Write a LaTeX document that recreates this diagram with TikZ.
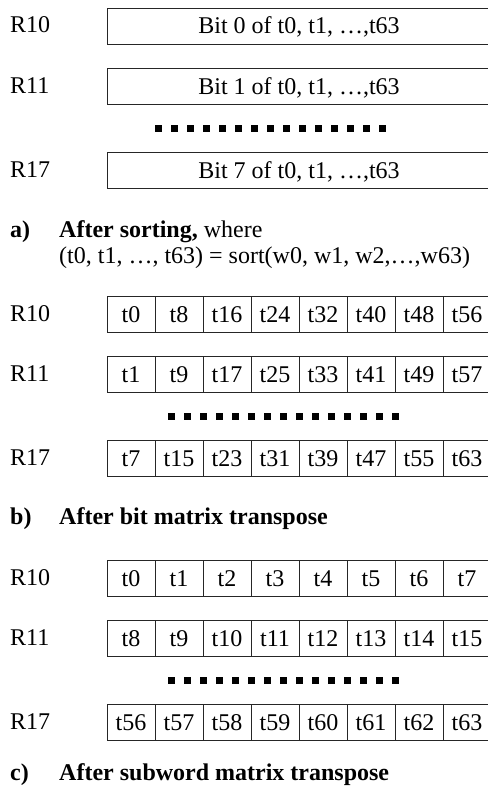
\documentclass[tikz,border=0pt]{standalone}
\usepackage{fontspec}
\setmainfont{Liberation Serif}
\begin{document}
\begin{tikzpicture}[x=1bp,y=-1bp,
  every node/.style={font=\fontsize{24bp}{27bp}\selectfont},
  wide/.style={draw=black!85, line width=0.9bp, minimum width=384bp, minimum height=36bp, inner sep=0pt, text height=16bp, text depth=0pt},
  cell/.style={draw=black!85, line width=0.9bp, minimum width=48bp, minimum height=36bp, inner sep=0pt, text height=16bp, text depth=0pt},
  reglabel/.style={anchor=base west, inner sep=0pt},
  dotrow/.style={line width=7bp, dash pattern=on 7bp off 9bp}]
\useasboundingbox (0,0) rectangle (488,791);
\clip (0,0) rectangle (488,791);
% top section
\node[reglabel] (l10) at (10,33) {R10};
\node[wide] (top0) at (299,26) {Bit 0 of t0, t1, …,t63};
\node[reglabel] (l11) at (10,93) {R11};
\node[wide] (top1) at (299,86) {Bit 1 of t0, t1, …,t63};
\draw[dotrow] (155,128) -- (395,128);
\node[reglabel] (l17) at (10,177) {R17};
\node[wide] (top7) at (299,170) {Bit 7 of t0, t1, …,t63};
% heading a
\node[reglabel] (ha) at (10,237) {\bfseries a)};
\node[reglabel] (hat) at (59,237) {\bfseries After sorting,\mdseries{} where};
\node[reglabel] (hab) at (59,263) {(t0, t1, …, t63) = sort(w0, w1, w2,…,w63)};
% section after sorting
\node[reglabel] (al10) at (10,321) {R10};
\node[reglabel] (al11) at (10,381) {R11};
\node[reglabel] (al17) at (10,465) {R17};
\foreach \c in {0,...,7}{
  \pgfmathtruncatemacro{\va}{8*\c}
  \pgfmathtruncatemacro{\vb}{8*\c+1}
  \pgfmathtruncatemacro{\vc}{8*\c+7}
  \node[cell] (a0-\c) at (131+48*\c,314) {t\va};
  \node[cell] (a1-\c) at (131+48*\c,374) {t\vb};
  \node[cell] (a7-\c) at (131+48*\c,458) {t\vc};
}
\draw[dotrow] (168,416) -- (408,416);
% heading b
\node[reglabel] (hb) at (10,524) {\bfseries b)};
\node[reglabel] (hbt) at (59,524) {\bfseries After bit matrix transpose};
% section after bit transpose
\node[reglabel] (cl10) at (10,585) {R10};
\node[reglabel] (cl11) at (10,645) {R11};
\node[reglabel] (cl17) at (10,729) {R17};
\foreach \c in {0,...,7}{
  \pgfmathtruncatemacro{\va}{\c}
  \pgfmathtruncatemacro{\vb}{8+\c}
  \pgfmathtruncatemacro{\vc}{56+\c}
  \node[cell] (c0-\c) at (131+48*\c,578) {t\va};
  \node[cell] (c1-\c) at (131+48*\c,638) {t\vb};
  \node[cell] (c7-\c) at (131+48*\c,722) {t\vc};
}
\draw[dotrow] (168,680) -- (408,680);
% heading c
\node[reglabel] (hc) at (10,780) {\bfseries c)};
\node[reglabel] (hct) at (59,780) {\bfseries After subword matrix transpose};
\end{tikzpicture}
\end{document}
